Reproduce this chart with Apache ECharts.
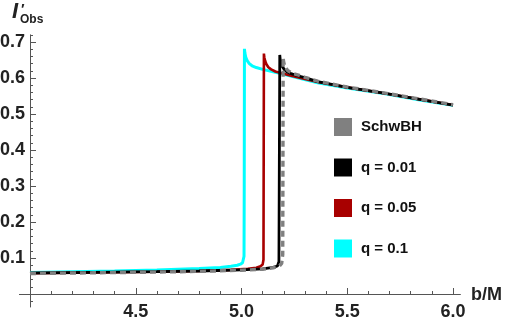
<!DOCTYPE html>
<html><head><meta charset="utf-8">
<script src="https://cdn.jsdelivr.net/npm/echarts@6/dist/echarts.min.js"></script>
<style>html,body{margin:0;padding:0;background:#fff}#c{width:506px;height:319px}</style>
</head><body><div id="c"></div>
<script>
// Data
const seriesNames = ['SchwBH', 'q = 0.01', 'q = 0.05', 'q = 0.1'];

const bSchw = [4.0,4.3,4.6,4.8,5.0,5.1,5.15,5.18,5.19,5.195,5.197,5.199,5.203,5.21,5.22,5.24,5.27,5.3,5.36,5.5,5.68,5.85,6.0];
const iSchw = [0.057,0.059,0.061,0.063,0.066,0.069,0.073,0.078,0.085,0.11,0.656,0.646,0.636,0.627,0.620,0.613,0.608,0.602,0.591,0.575,0.558,0.541,0.526];

const bQ001 = [4.0,4.3,4.6,4.8,5.0,5.1,5.15,5.17,5.177,5.181,5.183,5.187,5.193,5.202,5.215,5.235,5.26,5.3,5.36,5.5,5.68,5.85,6.0];
const iQ001 = [0.058,0.060,0.062,0.064,0.067,0.070,0.074,0.078,0.09,0.664,0.652,0.641,0.632,0.624,0.617,0.612,0.607,0.601,0.590,0.574,0.557,0.540,0.525];

const bQ005 = [4.0,4.3,4.6,4.8,4.95,5.03,5.07,5.09,5.1,5.104,5.106,5.108,5.112,5.118,5.127,5.14,5.16,5.19,5.23,5.28,5.36,5.5,5.68,5.85,6.0];
const iQ005 = [0.058,0.060,0.062,0.064,0.067,0.070,0.073,0.077,0.082,0.095,0.668,0.657,0.647,0.638,0.630,0.624,0.618,0.613,0.607,0.600,0.589,0.574,0.557,0.540,0.525];

const bQ01 = [4.0,4.2,4.4,4.6,4.8,4.9,4.95,4.98,4.995,5.005,5.010,5.012,5.013,5.014,5.016,5.020,5.027,5.037,5.05,5.07,5.1,5.15,5.2,5.27,5.36,5.5,5.68,5.85,6.0];
const iQ01 = [0.060,0.062,0.064,0.067,0.071,0.074,0.077,0.080,0.083,0.087,0.092,0.105,0.3,0.681,0.670,0.658,0.648,0.640,0.634,0.629,0.624,0.617,0.610,0.600,0.587,0.572,0.556,0.538,0.524];

const xLabels = [4.5, 5.0, 5.5, 6.0];
const yLabels = [0.1, 0.2, 0.3, 0.4, 0.5, 0.6, 0.7];

const zip = (b, v) => b.map((x, k) => [x, v[k]]);

const chart = echarts.init(document.getElementById('c'), null, {renderer: 'canvas'});
const FF = 'Liberation Sans, Arial, sans-serif';
const lab = {fontFamily: FF, fontWeight: 'bold', fontSize: 18, color: '#222'};
const AX = '#555';
const XMIN = 3.95, XMAX = 6.035, YMIN = -0.036, YMAX = 0.72;
const hidden = (gi) => ({type: 'value', gridIndex: gi, show: false, min: 0, max: 1});
const bare = (gi, min, max) => ({type: 'value', gridIndex: gi, min: min, max: max,
  axisLine: {show: false, onZero: false}, axisTick: {show: false}, axisLabel: {show: false}, splitLine: {show: false}});
// tick marks drawn as split lines of tiny grids
const tickAxis = (gi, min, max, interval) => ({
  type: 'value', gridIndex: gi, min: min, max: max, interval: interval,
  axisLine: {show: false, onZero: false}, axisTick: {show: false}, axisLabel: {show: false},
  splitLine: {show: true, showMinLine: true, showMaxLine: true, lineStyle: {color: AX, width: 1}}
});
const G = (o) => Object.assign({containLabel: false, outerBoundsMode: 'none'}, o);

chart.setOption({
  animation: false,
  grid: [
    G({left: 19.4, right: 45.6, top: 34.8, bottom: 12}),   // 0 main plot
    G({left: 30, width: 10, top: 34.8, bottom: 12}),       // 1 y axis line + labels
    G({left: 30, right: 53, top: 288, height: 6}),         // 2 x major ticks
    G({left: 30, right: 53, top: 291, height: 3}),         // 3 x minor ticks
    G({left: 30, width: 6, top: 42, bottom: 25}),          // 4 y major ticks 0..0.7
    G({left: 30, width: 3, top: 34.8, bottom: 17.8}),      // 5 y minor ticks -0.02..0.72
    G({left: 19.4, right: 45.6, top: 284, bottom: 25})     // 6 x axis line + labels (at I = 0)
  ],
  xAxis: [
    bare(0, XMIN, XMAX),
    hidden(1),
    tickAxis(2, 4.0, 6.0, 0.5),
    tickAxis(3, 4.0, 6.0, 0.1),
    hidden(4),
    hidden(5),
    {type: 'value', gridIndex: 6, position: 'bottom', min: XMIN, max: XMAX,
     axisLine: {show: true, onZero: false, lineStyle: {color: AX, width: 1}},
     axisTick: {show: false},
     axisLabel: Object.assign({show: true, customValues: xLabels, margin: 9, formatter: v => v.toFixed(1)}, lab),
     splitLine: {show: false}}
  ],
  yAxis: [
    bare(0, YMIN, YMAX),
    {type: 'value', gridIndex: 1, position: 'left', min: YMIN, max: YMAX,
     axisLine: {show: true, onZero: false, lineStyle: {color: AX, width: 1}},
     axisTick: {show: false},
     axisLabel: Object.assign({show: true, customValues: yLabels, margin: 5, formatter: v => v.toFixed(1)}, lab),
     splitLine: {show: false}},
    hidden(2),
    hidden(3),
    tickAxis(4, 0, 0.7, 0.1),
    tickAxis(5, -0.02, 0.72, 0.02),
    hidden(6)
  ],
  legend: {
    orient: 'vertical', left: 329, top: 113, itemWidth: 18, itemHeight: 18, itemGap: 22.5,
    icon: 'rect', data: seriesNames,
    textStyle: {fontFamily: FF, fontWeight: 'bold', fontSize: 15, color: '#111', padding: [0, 0, 0, 4]},
    itemStyle: {borderWidth: 0}
  },
  graphic: [
    {type: 'text', left: 12, top: 1, style: {text: 'I', font: 'italic bold 22px ' + FF, fill: '#222'}},
    {type: 'text', left: 21, top: 2, style: {text: '′', font: 'bold 15px ' + FF, fill: '#222'}},
    {type: 'text', left: 20, top: 14, style: {text: 'Obs', font: 'bold 12px ' + FF, fill: '#222'}},
    {type: 'text', left: 471, top: 286, style: {text: 'b/M', font: 'bold 18px ' + FF, fill: '#222'}}
  ],
  series: [
    {name: 'q = 0.1', type: 'line', xAxisIndex: 0, yAxisIndex: 0, showSymbol: false, data: zip(bQ01, iQ01), color: '#00ffff', lineStyle: {width: 3, color: '#00ffff'}, z: 2},
    {name: 'q = 0.05', type: 'line', xAxisIndex: 0, yAxisIndex: 0, showSymbol: false, data: zip(bQ005, iQ005), color: '#a80000', lineStyle: {width: 2.6, color: '#a80000'}, z: 3},
    {name: 'q = 0.01', type: 'line', xAxisIndex: 0, yAxisIndex: 0, showSymbol: false, data: zip(bQ001, iQ001), color: '#000000', lineStyle: {width: 2.8, color: '#000000'}, z: 4},
    {name: 'SchwBH', type: 'line', xAxisIndex: 0, yAxisIndex: 0, showSymbol: false, data: zip(bSchw, iSchw), color: '#808080', lineStyle: {width: 3.4, color: '#808080', type: [6, 4]}, z: 5}
  ]
});
</script></body></html>
